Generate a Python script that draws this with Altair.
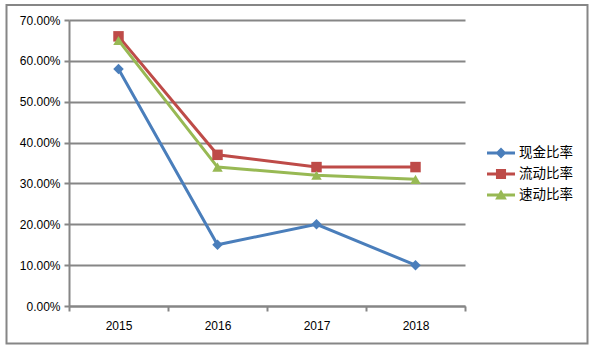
import altair as alt
import pandas as pd

years = ["2015", "2016", "2017", "2018"]
series_names = ["现金比率", "流动比率", "速动比率"]
cash_ratio = [0.58, 0.15, 0.20, 0.10]
current_ratio = [0.66, 0.37, 0.34, 0.34]
quick_ratio = [0.65, 0.34, 0.32, 0.31]
colors = ["#4A7EBB", "#BE4B48", "#98B954"]
y_ticks = [0, 0.1, 0.2, 0.3, 0.4, 0.5, 0.6, 0.7]

rows = []
for name, vals in zip(series_names, [cash_ratio, current_ratio, quick_ratio]):
    for i, (yr, v) in enumerate(zip(years, vals)):
        rows.append({"year": yr, "series": name, "value": v})
df = pd.DataFrame(rows)

GRAY = "#868686"
FONT = "Liberation Sans"

x_enc = alt.X("year:O", sort=years,
              scale=alt.Scale(type="band", paddingInner=0, paddingOuter=0),
              axis=alt.Axis(title=None, tickBand="extent", labelAngle=0, labelFont=FONT,
                            labelFontSize=12, labelColor="#000000", labelPadding=9,
                            tickSize=5, tickColor=GRAY, tickWidth=2, domainColor=GRAY,
                            domainWidth=2, grid=False))
y_enc = alt.Y("value:Q", scale=alt.Scale(domain=[0, 0.7], nice=False),
              axis=alt.Axis(title=None, values=y_ticks, format=".2%", labelFont=FONT,
                            labelFontSize=12, labelColor="#000000", labelPadding=4,
                            tickSize=5, tickColor=GRAY, tickWidth=2, domainColor=GRAY,
                            domainWidth=2, grid=True, gridColor=GRAY, gridWidth=2))
color_scale = alt.Scale(domain=series_names, range=colors)

lines = alt.Chart(df).mark_line(strokeWidth=3).encode(
    x=x_enc, y=y_enc,
    color=alt.Color("series:N", scale=color_scale, legend=None),
    order=alt.value(0),
)
points = alt.Chart(df).mark_point(filled=True, opacity=1, size=110).encode(
    x=x_enc, y=y_enc,
    color=alt.Color("series:N", scale=color_scale, legend=None),
    shape=alt.Shape("series:N", scale=alt.Scale(domain=series_names,
                    range=["diamond", "square", "triangle-up"]), legend=None),
)
plot = alt.layer(lines, points)

legend_paths = [
    "M-1,-0.107H1V0.107H-1Z M0,-0.39L0.39,0L0,0.39L-0.39,0Z",
    "M-1,-0.107H1V0.107H-1Z M-0.36,-0.36H0.36V0.36H-0.36Z",
    "M-1,-0.107H1V0.107H-1Z M0,-0.4L0.42,0.32H-0.42Z",
]
legend_opts = dict(title=None, orient="none", legendX=418, legendY=119,
                   symbolSize=784, symbolStrokeWidth=0,
                   labelFont="Noto Sans CJK SC", labelFontSize=13.5,
                   labelColor="#000000", labelOffset=4, rowPadding=0)
legend_layer = alt.Chart(df).transform_filter("false").mark_point(filled=True, opacity=1).encode(
    x=alt.X("year:O", sort=years, scale=alt.Scale(type="band", paddingInner=0, paddingOuter=0)),
    y=alt.Y("value:Q"),
    color=alt.Color("series:N", scale=alt.Scale(domain=series_names, range=colors),
                    legend=alt.Legend(**legend_opts)),
    shape=alt.Shape("series:N", scale=alt.Scale(domain=series_names, range=legend_paths),
                    legend=alt.Legend(**legend_opts)),
)

frame = alt.Chart(alt.Data(values=[{}])).mark_rect(
    fill=None, stroke=GRAY, strokeWidth=2
).encode(
    x=alt.value(-62.5), x2=alt.value(518.5), y=alt.value(-15), y2=alt.value(323.5)
)

chart = alt.layer(plot, legend_layer, frame).resolve_scale(
    color="independent", shape="independent"
).properties(
    width=396, height=286,
    autosize=alt.AutoSizeParams(type="none"),
    padding={"left": 69, "top": 20, "right": 130, "bottom": 45},
    background="#ffffff",
).configure_view(stroke=None)

chart.save("out.html", embed_options={"renderer": "svg", "actions": False})
